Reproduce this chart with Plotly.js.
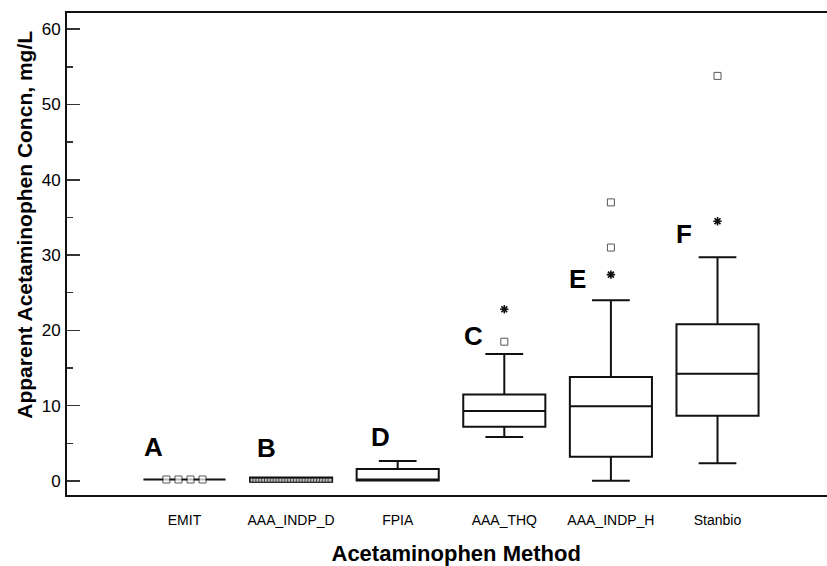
<!DOCTYPE html>
<html>
<head>
<meta charset="utf-8">
<script src="https://cdn.plot.ly/plotly-3.0.1.min.js"></script>
<style>
html,body{margin:0;padding:0;background:#ffffff;}
#chart{width:827px;height:566px;}
</style>
</head>
<body>
<div id="chart"></div>
<script>
// ---- data ----
const categories = ['EMIT', 'AAA_INDP_D', 'FPIA', 'AAA_THQ', 'AAA_INDP_H', 'Stanbio'];
const groupLetters = ['A', 'B', 'D', 'C', 'E', 'F'];
const q1Values = [0.2, -0.1, 0.05, 7.21, 3.23, 8.67];
const medianValues = [0.2, 0.1, 0.05, 9.29, 9.91, 14.25];
const q3Values = [0.2, 0.45, 1.6, 11.5, 13.8, 20.8];
const lowerWhisker = [0.2, -0.1, 0.05, 5.84, 0.04, 2.35];
const upperWhisker = [0.2, 0.45, 2.65, 16.86, 24.0, 29.7];
const squareOutliers = [
  [0.2, 0.2, 0.2, 0.2],
  [0.1, 0.1, 0.1, 0.1, 0.1, 0.1, 0.1, 0.1, 0.1, 0.1, 0.1, 0.1, 0.1, 0.1,
   0.1, 0.1, 0.1, 0.1, 0.1, 0.1, 0.1, 0.1, 0.1, 0.1, 0.1, 0.1, 0.1, 0.1],
  [],
  [18.5],
  [31.0, 37.0],
  [53.8]
];
const asteriskOutliers = [[], [], [], [22.8], [27.4], [34.5]];

// ---- styling / placement (not data) ----
const overlapSpread = [0.113, 0.0271, 0, 0, 0, 0];   // horizontal spread for tied outliers
const squareSize = [7, 4, 7, 7, 7, 7];
const letterOffsetX = [-0.291, -0.226, -0.166, -0.287, -0.318, -0.314];
const letterY = [4.45, 4.38, 5.88, 19.29, 26.88, 32.86];
const narrowFont = '"Liberation Sans Narrow", "Arial Narrow", "Liberation Sans", Arial, sans-serif';
const boldFont = '"Liberation Sans", Arial, Helvetica, sans-serif';

const positions = categories.map((c, i) => i);

const boxTrace = {
  type: 'box',
  x: positions,
  q1: q1Values,
  median: medianValues,
  q3: q3Values,
  lowerfence: lowerWhisker,
  upperfence: upperWhisker,
  width: 0.77,
  whiskerwidth: 0.46,
  boxpoints: false,
  line: {color: '#111111', width: 2},
  fillcolor: 'rgba(255,255,255,0)',
  showlegend: false,
  hoverinfo: 'skip'
};

const sqX = [], sqY = [], sqS = [];
squareOutliers.forEach((vals, i) => {
  const n = vals.length;
  vals.forEach((v, j) => {
    const tied = vals.filter(w => w === v).length > 1;
    sqX.push(positions[i] + (tied ? (j - (n - 1) / 2) * overlapSpread[i] : 0));
    sqY.push(v);
    sqS.push(squareSize[i]);
  });
});
const squareTrace = {
  type: 'scatter', mode: 'markers', x: sqX, y: sqY,
  marker: {symbol: 'square', size: sqS, color: '#ffffff', line: {color: '#111111', width: 1}},
  showlegend: false, hoverinfo: 'y'
};

const asX = [], asY = [];
asteriskOutliers.forEach((vals, i) => vals.forEach(v => { asX.push(positions[i]); asY.push(v); }));
const asteriskTrace = {
  type: 'scatter', mode: 'markers', x: asX, y: asY,
  marker: {symbol: 'asterisk-open', size: 7, color: '#111111', line: {color: '#111111', width: 1.6}},
  showlegend: false, hoverinfo: 'y'
};

const annotations = groupLetters.map((t, i) => ({
  text: t, x: positions[i] + letterOffsetX[i], y: letterY[i], xref: 'x', yref: 'y',
  showarrow: false, xanchor: 'center', yanchor: 'middle',
  font: {family: boldFont, size: 26, color: '#000000', weight: 'bold'}
}));

const zw = '\u200b', nb = '\u00a0';
const layout = {
  width: 827, height: 566,
  margin: {l: 67, r: 0, t: 13, b: 71, pad: 0},
  paper_bgcolor: '#ffffff', plot_bgcolor: '#ffffff',
  showlegend: false,
  xaxis: {
    type: 'linear', range: [-1.102, 6.027],
    tickvals: positions, ticktext: categories,
    ticks: '', showgrid: false, zeroline: false,
    showline: true, linecolor: '#111111', linewidth: 2, mirror: true,
    tickfont: {family: narrowFont, size: 14, color: '#000000'},
    ticklabelstandoff: 11,
    automargin: false,
    title: {text: zw + nb.repeat(3) + 'Acetaminophen Method', standoff: 21,
            font: {family: boldFont, size: 22, color: '#000000', weight: 'bold'}}
  },
  xaxis2: {
    overlaying: 'x', anchor: 'y', side: 'bottom',
    range: [0, 9.948], tick0: 0, dtick: 1,
    ticks: 'outside', ticklen: 6, tickwidth: 1.5, tickcolor: '#333333',
    showticklabels: false, showgrid: false, zeroline: false, showline: false
  },
  yaxis: {
    range: [-1.86, 62.15], tick0: 0, dtick: 10,
    ticks: 'inside', ticklen: 13, tickwidth: 1.5, tickcolor: '#333333',
    minor: {tick0: 0, dtick: 5, ticks: 'inside', ticklen: 6, tickwidth: 1.5, tickcolor: '#333333', showgrid: false},
    showgrid: false, zeroline: false,
    showline: true, linecolor: '#111111', linewidth: 2, mirror: false,
    tickfont: {family: narrowFont, size: 17, color: '#000000'},
    ticklabelstandoff: 1,
    automargin: false,
    title: {text: zw + nb.repeat(10) + 'Apparent Acetaminophen Concn, mg/L', standoff: 3,
            font: {family: boldFont, size: 21, color: '#000000', weight: 'bold'}}
  },
  annotations: annotations
};

Plotly.newPlot('chart', [boxTrace, squareTrace, asteriskTrace], layout, {displayModeBar: false, staticPlot: true});
</script>
</body>
</html>
